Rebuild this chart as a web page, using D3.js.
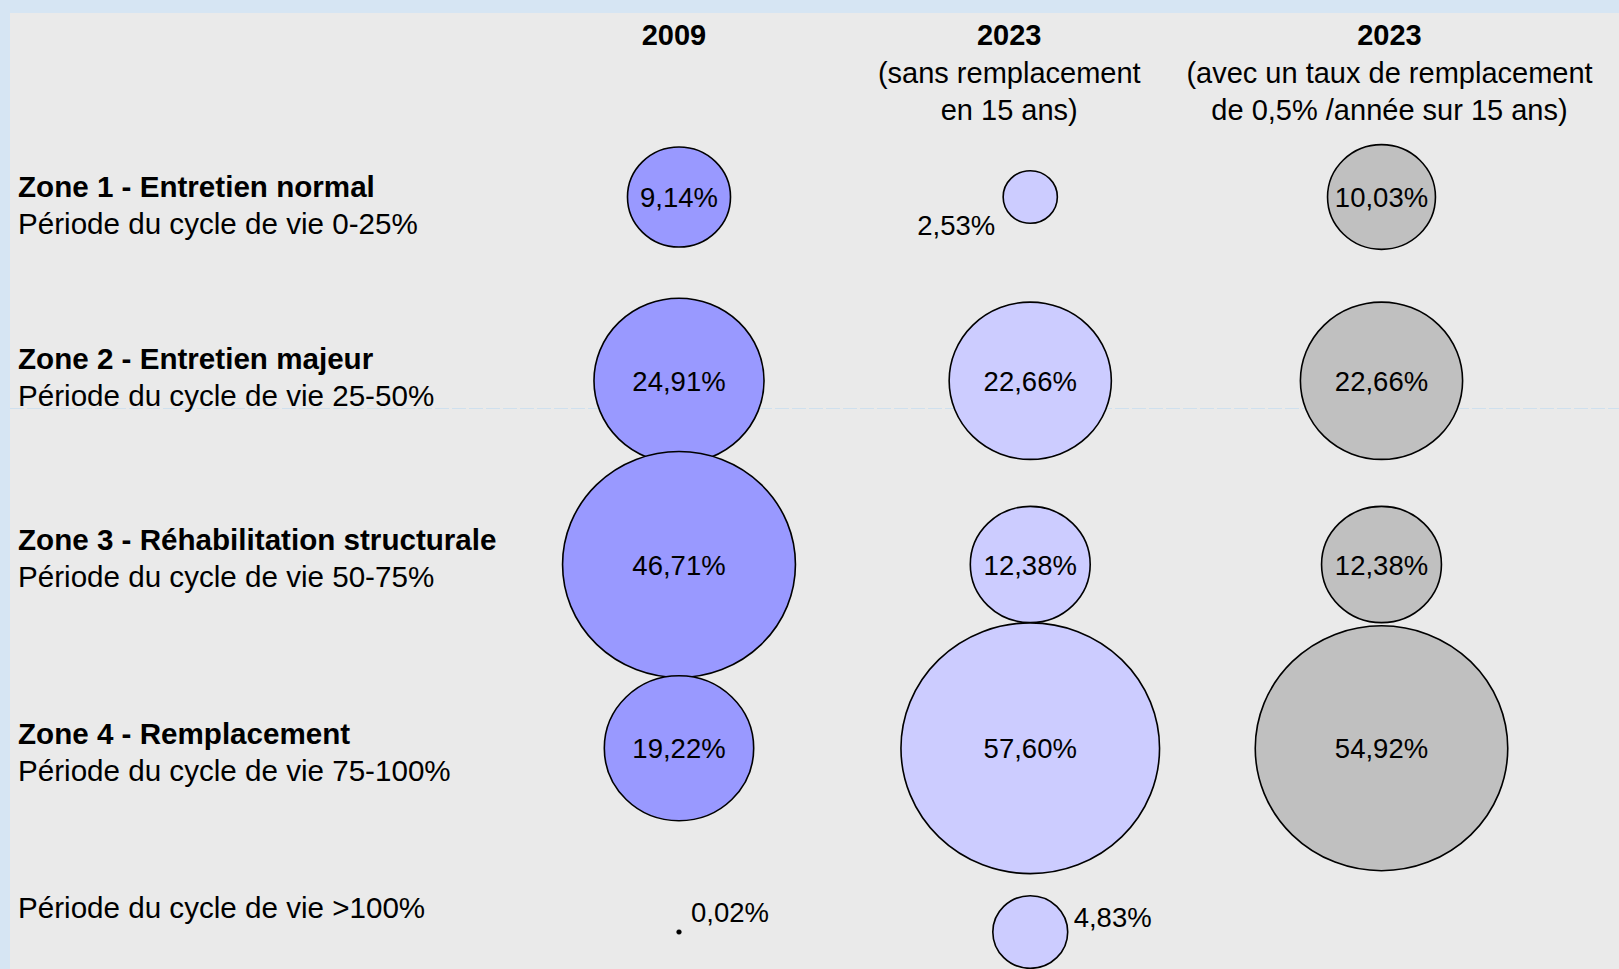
<!DOCTYPE html>
<html>
<head>
<meta charset="utf-8">
<script src="https://cdn.jsdelivr.net/npm/d3@7"></script>
<style>
  body { margin: 0; background: #d6e5f3; }
  svg { display: block; font-family: "Liberation Sans", Arial, sans-serif; }
</style>
</head>
<body>
<svg id="chart"></svg>
<script>
// data
var columns = ["c2009", "c2023a", "c2023b"];
var years = ["2009", "2023", "2023"];
var subtitles = [[], ["(sans remplacement", "en 15 ans)"], ["(avec un taux de remplacement", "de 0,5% /année sur 15 ans)"]];
var zones = ["z1", "z2", "z3", "z4", "z5"];
var zoneTitles = ["Zone 1 - Entretien normal", "Zone 2 - Entretien majeur", "Zone 3 - Réhabilitation structurale", "Zone 4 - Remplacement", ""];
var zonePeriods = ["Période du cycle de vie 0-25%", "Période du cycle de vie 25-50%", "Période du cycle de vie 50-75%", "Période du cycle de vie 75-100%", "Période du cycle de vie >100%"];
var values2009 = [9.14, 24.91, 46.71, 19.22, 0.02];
var values2023 = [2.53, 22.66, 12.38, 57.60, 4.83];
var values2023r = [10.03, 22.66, 12.38, 54.92, null];

var width = 1619;
var height = 969;
var colors = ["#9999ff", "#ccccff", "#c0c0c0"];

var svg = d3.select("#chart").attr("width", width).attr("height", height);

// blue frame + grey panel
svg.append("rect").attr("width", width).attr("height", height).attr("fill", "#d6e5f3");
svg.append("rect").attr("x", 10).attr("y", 13).attr("width", width - 10).attr("height", height - 13).attr("fill", "#eaeaea");
svg.append("line")
  .attr("x1", 10).attr("x2", width)
  .attr("y1", 408.5).attr("y2", 408.5)
  .attr("stroke", "#cfe0ee").attr("stroke-width", 1).attr("stroke-dasharray", "14,3");

var x = d3.scalePoint().domain(columns).range([679, 1381.5]);
var y = d3.scalePoint().domain(zones).range([197, 932]);
var r = d3.scaleSqrt().domain([0, 57.6]).range([0, 129.3]);
var fmt = function (v) { return d3.format(".2f")(v).replace(".", ",") + "%"; };

// column headers
var headerShift = [-5, -21, 8];
columns.forEach(function (c, i) {
  var hx = x(c) + headerShift[i];
  svg.append("text")
    .attr("x", hx).attr("y", 45)
    .attr("text-anchor", "middle")
    .style("font-size", "29px").style("font-weight", "bold")
    .text(years[i]);
  subtitles[i].forEach(function (s, j) {
    svg.append("text")
      .attr("x", hx).attr("y", 83 + j * 37)
      .attr("text-anchor", "middle")
      .style("font-size", "29px")
      .text(s);
  });
});

// row labels
var labelShift = [0, -12, -15, -4, -14];
zones.forEach(function (z, i) {
  var ly = y(z) + labelShift[i];
  if (zoneTitles[i]) {
    svg.append("text")
      .attr("x", 18).attr("y", ly)
      .style("font-size", "29.6px").style("font-weight", "bold")
      .text(zoneTitles[i]);
    ly += 37;
  }
  svg.append("text")
    .attr("x", 18).attr("y", ly)
    .style("font-size", "29.6px")
    .text(zonePeriods[i]);
});

// bubbles
var series = [values2009, values2023, values2023r];
var cells = [];
series.forEach(function (vals, ci) {
  vals.forEach(function (v, zi) {
    if (v != null) cells.push({ col: columns[ci], zone: zones[zi], ci: ci, zi: zi, value: v });
  });
});

var g = svg.append("g");
g.selectAll("ellipse")
  .data(cells)
  .enter()
  .append("ellipse")
  .attr("cx", function (d) { return x(d.col); })
  .attr("cy", function (d) { return y(d.zone); })
  .attr("rx", function (d) { return r(d.value); })
  .attr("ry", function (d) { return r(d.value) * 0.97; })
  .attr("fill", function (d) { return d.value < 0.1 ? "#000" : colors[d.ci]; })
  .attr("stroke", "#000")
  .attr("stroke-width", function (d) { return d.value < 0.1 ? 0.5 : 1.6; });

// value labels: inside when big, beside when small
g.selectAll("text.val")
  .data(cells)
  .enter()
  .append("text")
  .attr("class", "val")
  .style("font-size", "27.5px")
  .attr("x", function (d) {
    var cx = x(d.col), rr = r(d.value);
    if (d.value < 1) return cx + 12;
    if (d.value < 3) return cx - 74;
    if (d.value < 6) return cx + rr + 6;
    return cx;
  })
  .attr("y", function (d) {
    var cy = y(d.zone);
    if (d.value < 1) return cy - 10;
    if (d.value < 3) return cy + 38;
    if (d.value < 6) return cy - 5;
    return cy + 10;
  })
  .attr("text-anchor", function (d) {
    if (d.value < 1 || (d.value >= 3 && d.value < 6)) return "start";
    return "middle";
  })
  .text(function (d) { return fmt(d.value); });
</script>
</body>
</html>
